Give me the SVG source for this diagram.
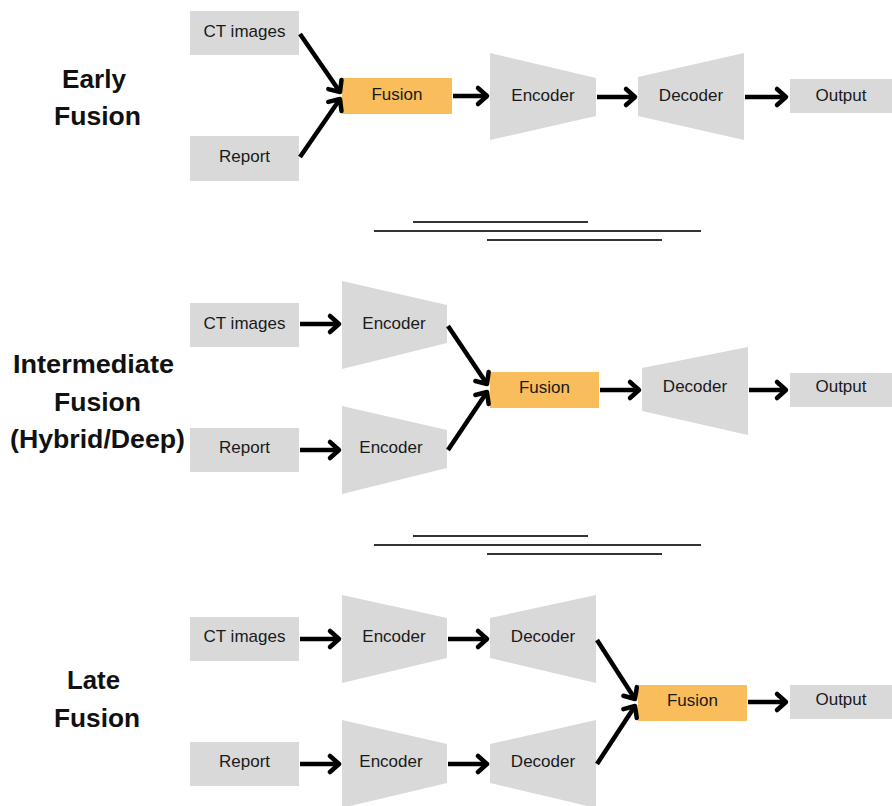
<svg xmlns="http://www.w3.org/2000/svg" width="892" height="806" viewBox="0 0 892 806">
<style>
.box{fill:#D9D9D9}
.fus{fill:#F9BD5B}
.lbl{font-family:"Liberation Sans",Arial,sans-serif;font-size:17px;fill:#1a1a1a;text-anchor:middle}
.ttl{font-family:"Liberation Sans",Arial,sans-serif;font-size:25px;font-weight:bold;fill:#111;text-anchor:middle}
.sep{stroke:#333;stroke-width:2}
.arr{stroke:#000;stroke-width:4.5;fill:none;marker-end:url(#ah)}
</style>
<defs>
<marker id="ah" markerUnits="userSpaceOnUse" viewBox="-14 -12 18 24" refX="0" refY="0" markerWidth="18" markerHeight="24" orient="auto">
<path d="M-9,-8 L0,0 L-9,8" fill="none" stroke="#000" stroke-width="4.5" stroke-linecap="round" stroke-linejoin="round"/>
</marker>
</defs>
<rect width="892" height="806" fill="#fff"/>

<g id="titles">
<text class="ttl" x="94" y="88" textLength="64" lengthAdjust="spacingAndGlyphs">Early</text>
<text class="ttl" x="97.5" y="125" textLength="87" lengthAdjust="spacingAndGlyphs">Fusion</text>
<text class="ttl" x="93.5" y="373" textLength="161" lengthAdjust="spacingAndGlyphs">Intermediate</text>
<text class="ttl" x="97.5" y="411" textLength="87" lengthAdjust="spacingAndGlyphs">Fusion</text>
<text class="ttl" x="97.5" y="448" textLength="175" lengthAdjust="spacingAndGlyphs">(Hybrid/Deep)</text>
<text class="ttl" x="93.5" y="689" textLength="53" lengthAdjust="spacingAndGlyphs">Late</text>
<text class="ttl" x="97" y="727" textLength="86" lengthAdjust="spacingAndGlyphs">Fusion</text>
</g>

<g id="separators">
<line class="sep" x1="413" y1="222" x2="588" y2="222"/>
<line class="sep" x1="374" y1="231" x2="701" y2="231"/>
<line class="sep" x1="487" y1="240" x2="662" y2="240"/>
<line class="sep" x1="413" y1="536" x2="588" y2="536"/>
<line class="sep" x1="374" y1="545" x2="701" y2="545"/>
<line class="sep" x1="487" y1="554" x2="662" y2="554"/>
</g>

<!-- Early fusion -->
<g id="e_ct"><rect class="box" x="190" y="11" width="109" height="44"/><text class="lbl" x="244.5" y="37">CT images</text></g>
<g id="e_report"><rect class="box" x="190" y="136" width="109" height="45"/><text class="lbl" x="244.5" y="162">Report</text></g>
<g id="e_fusion"><rect class="fus" x="342" y="78" width="110" height="36"/><text class="lbl" x="397" y="100">Fusion</text></g>
<g id="e_encoder"><polygon class="box" points="490,53 596,78 596,116 490,140"/><text class="lbl" x="543" y="101">Encoder</text></g>
<g id="e_decoder"><polygon class="box" points="638,77 744,53 744,140 638,116"/><text class="lbl" x="691" y="101">Decoder</text></g>
<g id="e_output"><rect class="box" x="790" y="79" width="102" height="34"/><text class="lbl" x="841" y="101">Output</text></g>

<!-- Intermediate fusion -->
<g id="i_ct"><rect class="box" x="190" y="303" width="109" height="44"/><text class="lbl" x="244.5" y="329">CT images</text></g>
<g id="i_report"><rect class="box" x="190" y="428" width="109" height="44"/><text class="lbl" x="244.5" y="453">Report</text></g>
<g id="i_enc1"><polygon class="box" points="342,281 447,305 447,343 342,369"/><text class="lbl" x="394" y="329">Encoder</text></g>
<g id="i_enc2"><polygon class="box" points="342,406 447,430 447,468 342,494"/><text class="lbl" x="391" y="453">Encoder</text></g>
<g id="i_fusion"><rect class="fus" x="490" y="372" width="109" height="36"/><text class="lbl" x="544.5" y="393">Fusion</text></g>
<g id="i_decoder"><polygon class="box" points="642,368 748,347 748,435 642,411"/><text class="lbl" x="695" y="392">Decoder</text></g>
<g id="i_output"><rect class="box" x="790" y="373" width="102" height="34"/><text class="lbl" x="841" y="392">Output</text></g>

<!-- Late fusion -->
<g id="l_ct"><rect class="box" x="190" y="617" width="109" height="44"/><text class="lbl" x="244.5" y="642">CT images</text></g>
<g id="l_report"><rect class="box" x="190" y="742" width="109" height="44"/><text class="lbl" x="244.5" y="767">Report</text></g>
<g id="l_enc1"><polygon class="box" points="342,595 447,618 447,658 342,683"/><text class="lbl" x="394" y="642">Encoder</text></g>
<g id="l_enc2"><polygon class="box" points="342,720 447,744 447,783 342,808"/><text class="lbl" x="391" y="767">Encoder</text></g>
<g id="l_dec1"><polygon class="box" points="490,618 596,595 596,683 490,658"/><text class="lbl" x="543" y="642">Decoder</text></g>
<g id="l_dec2"><polygon class="box" points="490,744 596,720 596,808 490,783"/><text class="lbl" x="543" y="767">Decoder</text></g>
<g id="l_fusion"><rect class="fus" x="638" y="685" width="109" height="36"/><text class="lbl" x="692.5" y="706">Fusion</text></g>
<g id="l_output"><rect class="box" x="790" y="685" width="102" height="34"/><text class="lbl" x="841" y="705">Output</text></g>

<g id="connectors">
<line class="arr" x1="300" y1="34" x2="340" y2="92"/>
<line class="arr" x1="300" y1="157" x2="340" y2="99"/>
<line class="arr" x1="453" y1="96" x2="487" y2="96"/>
<line class="arr" x1="597" y1="97" x2="635" y2="97"/>
<line class="arr" x1="745" y1="97" x2="786" y2="97"/>

<line class="arr" x1="300" y1="324" x2="339" y2="324"/>
<line class="arr" x1="300" y1="450" x2="339" y2="450"/>
<line class="arr" x1="448" y1="326" x2="487" y2="384"/>
<line class="arr" x1="448" y1="450" x2="487" y2="392"/>
<line class="arr" x1="600" y1="390" x2="639" y2="390"/>
<line class="arr" x1="749" y1="390" x2="786" y2="390"/>

<line class="arr" x1="300" y1="639" x2="339" y2="639"/>
<line class="arr" x1="448" y1="639" x2="487" y2="639"/>
<line class="arr" x1="300" y1="764" x2="339" y2="764"/>
<line class="arr" x1="448" y1="764" x2="487" y2="764"/>
<line class="arr" x1="597" y1="640" x2="635" y2="699"/>
<line class="arr" x1="597" y1="764" x2="635" y2="706"/>
<line class="arr" x1="748" y1="702" x2="786" y2="702"/>
</g>
</svg>
